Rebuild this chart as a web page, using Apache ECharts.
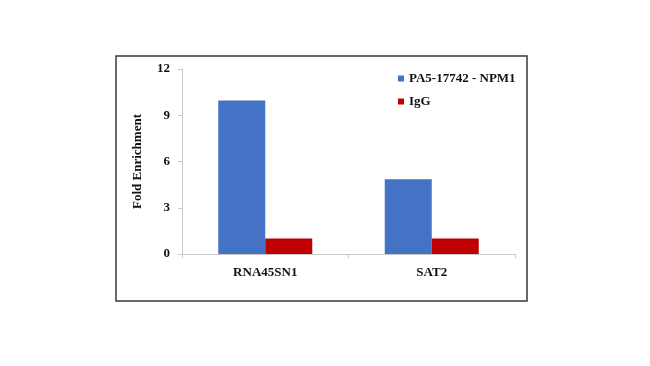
<!DOCTYPE html>
<html><head><meta charset="utf-8">
<script src="https://cdn.jsdelivr.net/npm/echarts@6/dist/echarts.min.js"></script>
<style>html,body{margin:0;padding:0;background:#fff}#c{width:650px;height:366px}</style>
</head><body><div id="c"></div>
<script>
const categories = ['RNA45SN1', 'SAT2'];
const seriesNames = ['PA5-17742 - NPM1', 'IgG'];
const npm1Values = [9.95, 4.85];
const iggValues = [1.0, 1.0];
const yTicks = [0, 3, 6, 9, 12];

const font = 'Liberation Serif';
const chart = echarts.init(document.getElementById('c'), null, {renderer: 'canvas'});
chart.setOption({
  backgroundColor: '#fff',
  animation: false,
  graphic: [{
    type: 'rect', shape: {x: 116, y: 56, width: 411, height: 245},
    style: {fill: 'none', stroke: '#3a3a3a', lineWidth: 1.5}, silent: true
  }],
  legend: {
    orient: 'vertical', left: 393, top: 67, itemGap: 10,
    itemWidth: 6, itemHeight: 6, icon: 'rect',
    textStyle: {fontFamily: font, fontWeight: 'bold', fontSize: 13, color: '#111'},
    data: seriesNames
  },
  grid: {left: 182, right: 135, top: 69, bottom: 112},
  xAxis: {
    type: 'category', data: categories,
    axisLine: {lineStyle: {color: '#c8c8c8'}},
    axisTick: {show: true, length: 4, lineStyle: {color: '#c8c8c8'}},
    axisLabel: {fontFamily: font, fontWeight: 'bold', fontSize: 13, color: '#111', margin: 12}
  },
  yAxis: {
    type: 'value', min: yTicks[0], max: yTicks[yTicks.length - 1], interval: 3,
    name: 'Fold Enrichment', nameLocation: 'middle', nameGap: 38,
    nameTextStyle: {fontFamily: font, fontWeight: 'bold', fontSize: 13, color: '#111'},
    axisLine: {show: true, lineStyle: {color: '#c8c8c8'}},
    axisTick: {show: true, length: 4, lineStyle: {color: '#c8c8c8'}},
    splitLine: {show: false},
    axisLabel: {fontFamily: font, fontWeight: 'bold', fontSize: 13, color: '#111', margin: 12}
  },
  series: [
    {name: seriesNames[0], type: 'bar', data: npm1Values, barWidth: 47, barGap: '0%',
     itemStyle: {color: '#4472C4'}},
    {name: seriesNames[1], type: 'bar', data: iggValues, barWidth: 47, barGap: '0%',
     itemStyle: {color: '#C00000'}}
  ]
});
</script></body></html>
